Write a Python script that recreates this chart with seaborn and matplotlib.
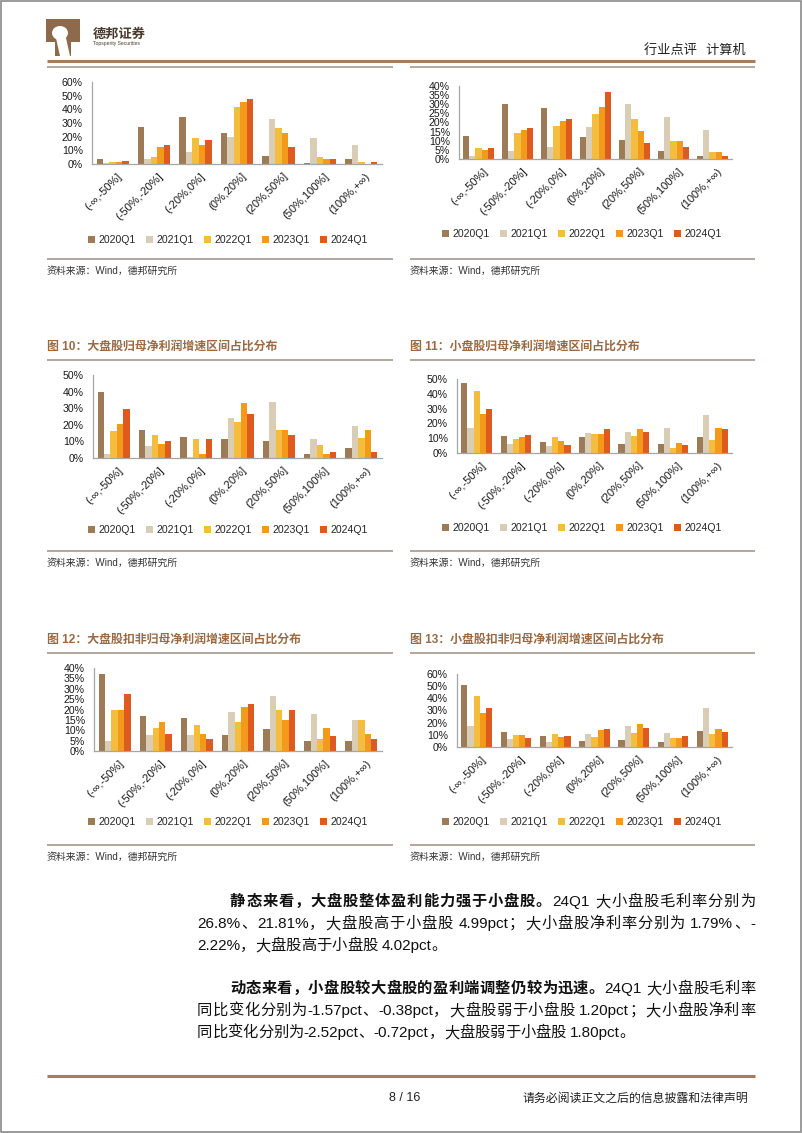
import matplotlib
matplotlib.use("Agg")
import matplotlib.pyplot as plt
import seaborn as sns
import pandas as pd
import numpy as np
from matplotlib.patches import Rectangle, Ellipse, Polygon
from matplotlib.lines import Line2D
from matplotlib.transforms import ScaledTranslation

# ---------------- data ----------------
categories = ["(-∞,-50%]", "(-50%,-20%]", "(-20%,0%]", "(0%,20%]",
              "(20%,50%]", "(50%,100%]", "(100%,+∞)"]
series = ["2020Q1", "2021Q1", "2022Q1", "2023Q1", "2024Q1"]
colors = ["#9E7B57", "#D9CDB6", "#F5BD3D", "#F39A1B", "#DE5A1E"]

# top-left chart (values in %, rows = series 2020Q1..2024Q1)
chart_a = [
    [3.6, 26.9, 34.6, 23.0, 6.0, 1.0, 3.6],
    [0.5, 3.6, 8.7, 20.1, 32.7, 18.9, 13.8],
    [1.2, 4.8, 18.9, 41.9, 26.4, 4.8, 1.2],
    [1.2, 12.3, 13.8, 45.5, 22.5, 3.6, 0.3],
    [2.4, 13.8, 17.7, 47.9, 12.3, 3.6, 1.2],
]
# top-right chart
chart_b = [
    [12.7, 30.0, 27.7, 11.9, 10.5, 4.2, 1.4],
    [1.8, 4.3, 6.5, 17.7, 29.9, 22.8, 15.7],
    [6.2, 14.5, 18.3, 24.6, 21.7, 10.0, 3.8],
    [4.9, 15.9, 20.8, 28.6, 15.4, 10.0, 3.8],
    [6.2, 16.8, 22.1, 36.9, 8.5, 6.5, 1.6],
]
# 图10
chart_10 = [
    [39.5, 16.7, 12.7, 11.5, 10.3, 2.4, 6.3],
    [2.2, 7.5, 0.6, 23.8, 33.9, 11.3, 19.0],
    [16.1, 13.7, 11.5, 21.6, 16.7, 7.7, 12.3],
    [20.3, 8.7, 2.4, 32.9, 16.7, 2.4, 16.7],
    [29.8, 10.0, 11.5, 26.4, 13.7, 3.6, 3.6],
]
# 图11
chart_11 = [
    [47.3, 11.7, 7.2, 10.6, 6.1, 6.1, 10.6],
    [16.9, 6.1, 4.5, 13.5, 14.4, 17.1, 25.9],
    [41.7, 9.7, 10.6, 12.8, 11.7, 3.4, 9.0],
    [26.6, 10.8, 8.3, 12.8, 16.2, 6.8, 17.1],
    [29.7, 12.4, 5.2, 16.0, 14.0, 5.6, 16.4],
]
# 图12
chart_12 = [
    [37.2, 17.0, 16.0, 7.6, 10.5, 5.0, 5.0],
    [4.9, 7.6, 7.6, 18.9, 26.6, 17.7, 14.9],
    [19.8, 11.2, 12.3, 13.8, 19.8, 6.0, 14.9],
    [19.8, 13.9, 8.4, 21.0, 14.9, 11.2, 8.4],
    [27.5, 8.4, 6.0, 22.5, 19.8, 7.1, 6.0],
]
# 图13
chart_13 = [
    [50.9, 12.1, 9.4, 5.0, 5.5, 4.4, 13.2],
    [17.3, 6.3, 4.4, 10.7, 17.3, 11.8, 31.7],
    [42.1, 10.2, 11.0, 8.0, 11.3, 7.2, 10.7],
    [28.1, 9.6, 8.3, 13.8, 18.7, 7.2, 15.1],
    [31.9, 7.7, 8.8, 15.1, 15.4, 8.8, 12.7],
]

titles = ["图 10：大盘股归母净利润增速区间占比分布",
          "图 11：小盘股归母净利润增速区间占比分布",
          "图 12：大盘股扣非归母净利润增速区间占比分布",
          "图 13：小盘股扣非归母净利润增速区间占比分布"]
source_text = "资料来源：Wind，德邦研究所"

# ---------------- figure ----------------
sns.set_theme(style="white")
LAT = ["Liberation Sans", "Noto Sans CJK SC", "DejaVu Sans"]
CJK = ["Noto Sans CJK SC", "Liberation Sans", "DejaVu Sans"]
plt.rcParams["font.family"] = LAT

W, H = 802, 1133
fig = plt.figure(figsize=(W / 100, H / 100), dpi=100)
fig.patch.set_facecolor("white")


def fx(x):
    return x / W


def fy(y):
    return 1 - y / H


def hline(x0, x1, y, color, lw):
    fig.add_artist(Line2D([fx(x0), fx(x1)], [fy(y), fy(y)], color=color,
                          lw=lw, solid_capstyle="butt"))


AXC = "#A6A6A6"


def draw_chart(box, values, ymax, ystep, leg_center):
    x0, y0, x1, y1 = box
    ax = fig.add_axes([fx(x0), fy(y1), (x1 - x0) / W, (y1 - y0) / H])
    rows = []
    for s, vals in zip(series, values):
        for c, v in zip(categories, vals):
            rows.append({"区间": c, "季度": s, "占比": v})
    df = pd.DataFrame(rows)
    sns.barplot(data=df, x="区间", y="占比", hue="季度", order=categories,
                hue_order=series, palette=colors, saturation=1, width=0.78,
                errorbar=None, linewidth=0, legend=False, ax=ax)
    ax.set_xlim(-0.5, 6.5)
    ax.set_ylim(0, ymax)
    ticks = np.arange(0, ymax + 0.01, ystep)
    ax.set_yticks(ticks)
    ax.set_yticklabels([f"{int(t)}%" for t in ticks])
    ax.set_xlabel("")
    ax.set_ylabel("")
    for sp in ["top", "right"]:
        ax.spines[sp].set_visible(False)
    for sp in ["left", "bottom"]:
        ax.spines[sp].set_color(AXC)
        ax.spines[sp].set_linewidth(0.9)
    ax.tick_params(axis="y", length=0, pad=6.5, labelsize=7.6,
                   labelcolor="#1a1a1a")
    ax.set_xticks(range(len(categories)))
    ax.set_xticklabels(categories, rotation=45, ha="right",
                       rotation_mode="anchor", fontsize=8, color="#1a1a1a")
    ax.tick_params(axis="x", which="major", length=0, pad=5)
    ax.set_xticks(np.arange(-0.5, len(categories), 1), minor=True)
    ax.tick_params(axis="x", which="minor", length=3, color=AXC, width=0.9,
                   direction="out")
    off = ScaledTranslation(4 / 100, 0, fig.dpi_scale_trans)
    for lbl in ax.get_xticklabels():
        lbl.set_transform(lbl.get_transform() + off)
    ax.grid(False)
    handles = [Rectangle((0, 0), 1, 1, facecolor=c, edgecolor="none")
               for c in colors]
    ax.legend(handles, series, loc="center",
              bbox_to_anchor=(fx(leg_center[0]), fy(leg_center[1])),
              bbox_transform=fig.transFigure, ncol=5, frameon=False,
              fontsize=7.6, handlelength=0.65, handleheight=0.65,
              handletextpad=0.3, columnspacing=1.0, borderpad=0,
              borderaxespad=0)
    return ax


draw_chart((92, 82, 382, 164), chart_a, 60, 10, (228, 240))
draw_chart((459, 86, 732, 159), chart_b, 40, 5, (582, 234))
draw_chart((93, 375, 382, 458), chart_10, 50, 10, (228, 530))
draw_chart((457, 379, 732, 453), chart_11, 50, 10, (582, 528))
draw_chart((94, 668, 382, 751), chart_12, 40, 5, (228, 822))
draw_chart((457, 674, 732, 747), chart_13, 60, 10, (582, 822))

# ---------------- page decorations ----------------
# page border
fig.add_artist(Rectangle((0.0008, 0.0008), 0.9984, 0.9984, transform=fig.transFigure,
                         fill=False, edgecolor="#8a8a8a", lw=1.2))

# logo
LOGO = "#8C6A4B"
fig.add_artist(Rectangle((fx(46), fy(56)), 34 / W, 37 / H, transform=fig.transFigure,
                         facecolor=LOGO, edgecolor="none"))
fig.add_artist(Ellipse((fx(60), fy(33)), 16 / W, 14 / H, transform=fig.transFigure,
                       facecolor="white", edgecolor="none"))
fig.add_artist(Polygon([(fx(56), fy(38)), (fx(66), fy(38)), (fx(70), fy(56)),
                        (fx(60), fy(56))], closed=True, transform=fig.transFigure,
                       facecolor="white", edgecolor="none"))
fig.add_artist(Rectangle((fx(46), fy(56)), 9 / W, 14 / H, transform=fig.transFigure,
                         facecolor="white", edgecolor="none"))
fig.add_artist(Rectangle((fx(71), fy(56)), 9 / W, 14 / H, transform=fig.transFigure,
                         facecolor="white", edgecolor="none"))
fig.text(fx(93), fy(34), "德邦证券", fontsize=9.5, weight="bold", color="#4a3a2e",
         family=CJK, va="center", ha="left")
fig.text(fx(93), fy(44), "Topsperity Securities", fontsize=3.6, color="#4a3a2e",
         va="center", ha="left")
fig.text(fx(746), fy(50), "行业点评   计算机", fontsize=9.5, color="#222222",
         family=CJK, va="center", ha="right")

# header lines
hline(47, 755, 61, "#A67C5B", 2.2)
hline(47, 393, 66.5, "#B3A08E", 1.3)
hline(410, 755, 66.5, "#B3A08E", 1.3)

FRAME = "#ADA095"
TITLE_C = "#9A6A44"
for y_line, y_src in [(259, 271), (551, 563), (845, 857)]:
    hline(47, 393, y_line, FRAME, 1.3)
    hline(410, 755, y_line, FRAME, 1.3)
    fig.text(fx(47), fy(y_src), source_text, fontsize=7.1, color="#333333",
             family=LAT, va="center", ha="left")
    fig.text(fx(410), fy(y_src), source_text, fontsize=7.1, color="#333333",
             family=LAT, va="center", ha="left")

for (t_left, t_right), y_t, y_l in [((titles[0], titles[1]), 347, 360),
                                     ((titles[2], titles[3]), 640, 653)]:
    fig.text(fx(47), fy(y_t), t_left, fontsize=8.6, weight="bold", color=TITLE_C,
             family=LAT, va="center", ha="left")
    fig.text(fx(410), fy(y_t), t_right, fontsize=8.6, weight="bold", color=TITLE_C,
             family=LAT, va="center", ha="left")
    hline(47, 393, y_l, FRAME, 1.3)
    hline(410, 755, y_l, FRAME, 1.3)

# ---------------- body paragraphs ----------------
renderer = fig.canvas.get_renderer()
BODY = 11


def place_line(x0, x1, y, segs, justify=True):
    items = []

    def add_tok(tok, bold):
        t = fig.text(0, fy(y), tok, fontsize=BODY, weight="bold" if bold else "normal",
                     color="#111111", family=LAT, va="center", ha="left")
        w = t.get_window_extent(renderer).width
        items.append((t, w))

    for txt, bold in segs:
        buf = ""
        for ch in txt:
            if ch == " ":
                if buf:
                    add_tok(buf, bold)
                    buf = ""
                items.append((None, 4.0))
            elif ord(ch) < 128:
                buf += ch
            else:
                if buf:
                    add_tok(buf, bold)
                    buf = ""
                add_tok(ch, bold)
        if buf:
            add_tok(buf, bold)
    total = sum(w for _, w in items)
    n = len(items)
    gap = (x1 - x0 - total) / (n - 1) if (justify and n > 1) else 0.0
    x = x0
    for t, w in items:
        if t is not None:
            t.set_x(fx(x))
        x += w + gap


place_line(230, 755, 902, [("静态来看，大盘股整体盈利能力强于小盘股。", True),
                           ("24Q1 大小盘股毛利率分别为", False)])
place_line(197, 755, 924, [("26.8%、21.81%，大盘股高于小盘股 4.99pct；大小盘股净利率分别为 1.79%、-", False)])
place_line(197, 755, 946, [("2.22%，大盘股高于小盘股 4.02pct。", False)], justify=False)
place_line(230, 755, 989, [("动态来看，小盘股较大盘股的盈利端调整仍较为迅速。", True),
                           ("24Q1 大小盘股毛利率", False)])
place_line(197, 755, 1011, [("同比变化分别为-1.57pct、-0.38pct，大盘股弱于小盘股 1.20pct；大小盘股净利率", False)])
place_line(197, 755, 1033, [("同比变化分别为-2.52pct、-0.72pct，大盘股弱于小盘股 1.80pct。", False)],
           justify=False)

# ---------------- footer ----------------
hline(47, 755, 1076, "#A67C5B", 2.2)
fig.text(fx(405), fy(1098), "8 / 16", fontsize=9, color="#222222", family=LAT,
         va="center", ha="center")
fig.text(fx(748), fy(1098), "请务必阅读正文之后的信息披露和法律声明", fontsize=8.6,
         color="#222222", family=CJK, va="center", ha="right")

fig.savefig("out.png", dpi=100, facecolor="white")
